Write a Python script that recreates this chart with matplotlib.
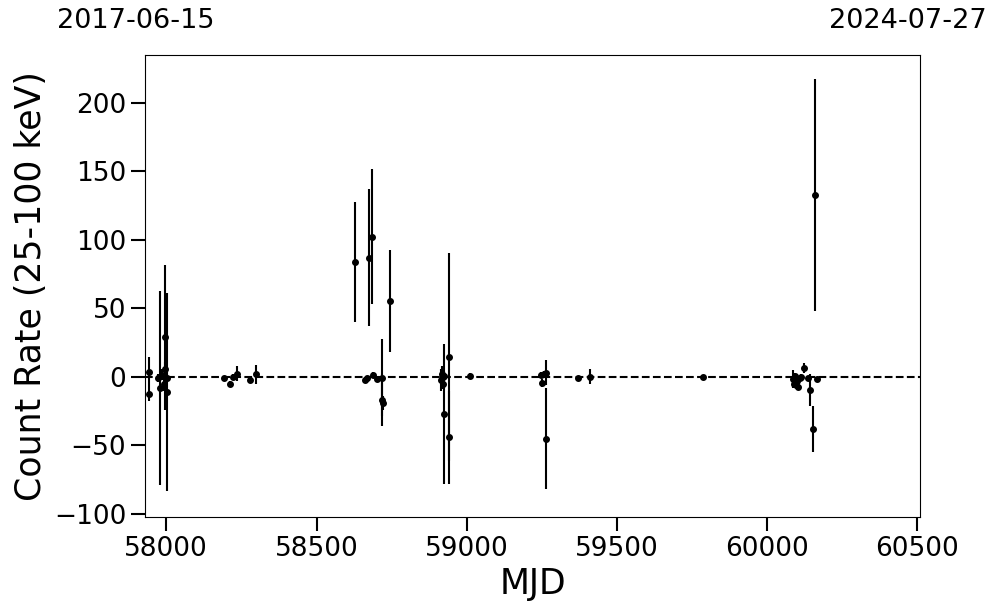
import matplotlib
matplotlib.use("Agg")
import matplotlib.pyplot as plt

# MJD, count rate (25-100 keV), 1-sigma error
mjd = [57944, 57944, 57971, 57980, 57986, 57992, 57997, 57997, 58002, 58003,
       58193, 58213, 58222, 58235, 58277, 58297,
       58629, 58662, 58668, 58674, 58686, 58687, 58701, 58718, 58718, 58720, 58743,
       58916, 58919, 58920, 58921, 58923, 58925, 58941, 58941, 59012,
       59247, 59250, 59256, 59265, 59265, 59369, 59411, 59788,
       60087, 60090, 60094, 60097, 60100, 60104, 60108, 60112, 60122, 60137,
       60144, 60152, 60161, 60166]
rate = [3.9, -12.5, -1, -8, 1.5, -5, 29, 6, -11, -0.5,
        -1, -5, 0, 2.5, -2, 2,
        84, -2, -1, 87, 102.5, 1.5, -1.5, -0.5, -17, -19, 55.5,
        -2, 2, -5, 0, -27, 1, 14.8, -44, 1,
        1.5, -4.5, 2.5, 3.2, -45, -1, 0.2, 0,
        -1.5, -5, 1, -6, -3, -7, -1, 0, 6.3, -1,
        -9.5, -38, 132.8, -1.7]
err = [11, 5, 3, 71, 4, 5, 53, 5, 72, 3,
       1.5, 2, 2, 5.5, 2, 7,
       44, 2, 2, 50, 49, 2, 2, 28, 19, 5, 37.5,
       8, 6, 4, 3, 51, 3, 76, 34, 2,
       2, 3, 2, 9, 37, 1.5, 5.4, 1,
       6.5, 2, 2, 2, 3, 2, 2, 2, 3.7, 2,
       12, 17, 84.5, 2]

start_date = "2017-06-15"
end_date = "2024-07-27"

fig = plt.figure(figsize=(9.97, 6.13), dpi=100)
ax = fig.add_axes([0.1454, 0.1566, 0.7774, 0.7537])

ax.errorbar(mjd, rate, yerr=err, fmt="o", color="black", ms=4, elinewidth=1.5, capsize=0)
ax.axhline(0, color="black", ls="--", lw=1.5)

ax.set_xlim(57929, 60509)
ax.set_ylim(-102.2, 235)
ax.set_xticks([58000, 58500, 59000, 59500, 60000, 60500])
ax.set_yticks([-100, -50, 0, 50, 100, 150, 200])
ax.tick_params(axis="both", which="major", labelsize=19, length=10, width=1.5)

ax.set_xlabel("MJD", fontsize=25)
ax.set_ylabel("Count Rate (25-100 keV)", fontsize=25)

fig.text(136 / 997, 1 - 21.5 / 613, start_date, ha="center", va="center", fontsize=19.5)
fig.text(907.5 / 997, 1 - 21.5 / 613, end_date, ha="center", va="center", fontsize=19.5)

plt.savefig("out.png", dpi=100)
